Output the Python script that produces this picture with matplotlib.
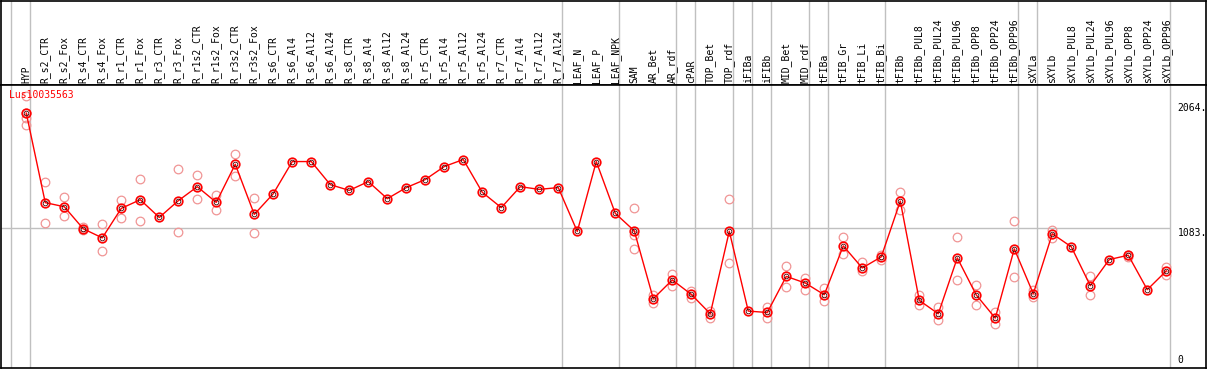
import matplotlib
matplotlib.use("Agg")
import matplotlib.pyplot as plt

# sample names (one column each)
samples = ["HYP",
	"R_s2_CTR", "R_s2_Fox", "R_s4_CTR", "R_s4_Fox", "R_r1_CTR", "R_r1_Fox",
	"R_r3_CTR", "R_r3_Fox", "R_r1s2_CTR", "R_r1s2_Fox", "R_r3s2_CTR", "R_r3s2_Fox",
	"R_s6_CTR", "R_s6_Al4", "R_s6_Al12", "R_s6_Al24", "R_s8_CTR", "R_s8_Al4",
	"R_s8_Al12", "R_s8_Al24", "R_r5_CTR", "R_r5_Al4", "R_r5_Al12", "R_r5_Al24",
	"R_r7_CTR", "R_r7_Al4", "R_r7_Al12", "R_r7_Al24",
	"LEAF_N", "LEAF_P", "LEAF_NPK",
	"SAM", "AR_Bet", "AR_rdf", "cPAR", "TOP_Bet", "TOP_rdf", "iFIBa", "iFIBb",
	"MID_Bet", "MID_rdf", "tFIBa", "tFIB_Gr", "tFIB_Li", "tFIB_Bi",
	"tFIBb", "tFIBb_PUL8", "tFIBb_PUL24", "tFIBb_PUL96", "tFIBb_OPP8",
	"tFIBb_OPP24", "tFIBb_OPP96", "sXYLa",
	"sXYLb", "sXYLb_PUL8", "sXYLb_PUL24", "sXYLb_PUL96", "sXYLb_OPP8",
	"sXYLb_OPP24", "sXYLb_OPP96"]

# mean expression per sample
means = [1982,
	1280, 1248, 1075, 1004, 1235, 1303, 1164, 1295, 1405, 1282, 1581, 1188,
	1350, 1602, 1602, 1421, 1376, 1445, 1311, 1398, 1461, 1563, 1618, 1361,
	1241, 1405, 1384, 1398,
	1054, 1602, 1196,
	1059, 527, 674, 561, 409, 1056, 430, 419, 702, 650, 558, 941, 768, 855,
	1292, 514, 409, 847, 556, 375, 918, 566,
	1036, 934, 629, 834, 868, 598, 745]

# replicate values per sample (empty = hidden behind the mean)
reps = [[2118, 1985, 1940, 1888],
	[1445, 1122], [1327, 1172], [1091, 1064], [1109, 899], [1303, 1162],
	[1468, 1138], [], [1547, 1048], [1500, 1311], [1337, 1219], [1665, 1489],
	[1319, 1044],
	[], [], [], [], [], [], [], [], [], [], [], [], [], [], [], [],
	[], [], [],
	[1240, 1030, 918], [558, 490], [724, 627], [590, 532], [433, 375],
	[1311, 808], [], [462, 375], [787, 616], [690, 598], [611, 506],
	[1012, 879], [816, 742], [873, 834],
	[1366, 1221], [556, 480], [462, 359], [1009, 674], [635, 477], [419, 325],
	[1138, 698], [598, 537],
	[1062, 1004], [], [708, 556], [], [873, 852], [], [773, 713]]

# last sample of each tissue group (gray separators)
group_ends = ["HYP", "R_r7_Al24", "LEAF_NPK", "AR_rdf", "cPAR", "TOP_rdf",
	"iFIBa", "iFIBb", "MID_rdf", "tFIBa", "tFIB_Bi", "tFIBb_OPP96", "sXYLa",
	"sXYLb_OPP96"]

gene = "Lus10035563"
ytick_vals = [2064, 1083, 0]
ytick_text = ["2064.", "1083.", "0"]

W, H = 1209, 370
fig = plt.figure(figsize=(W / 100, H / 100), dpi=100)
mono = "DejaVu Sans Mono"
gray = "#c0c0c0"

x = list(range(len(samples)))
xlim = (-1.33, 62.09)
seps = [-1 + 0.22] + [samples.index(s) + 0.22 for s in group_ends]

# header with sample names
hax = fig.add_axes([1 / W, 285 / H, 1205 / W, 84.5 / H])
hax.set_xlim(*xlim)
hax.set_ylim(0, 1)
hax.set_xticks([])
hax.set_yticks([])
for sp in hax.spines.values():
	sp.set_color("black")
	sp.set_linewidth(1.2)
for s in seps:
	hax.axvline(s, color=gray, lw=1.0)
for i, name in enumerate(samples):
	hax.text(i, 0.025, name, rotation=90, ha="center", va="bottom",
		family=mono, fontsize=7)

# main plot
ax = fig.add_axes([1 / W, 2 / H, 1205 / W, 283 / H])
ax.set_xlim(*xlim)
ax.set_ylim(-16, 2202)
ax.set_xticks([])
ax.set_yticks([])
for sp in ax.spines.values():
	sp.set_color("black")
	sp.set_linewidth(1.2)
for s in seps:
	ax.axvline(s, color=gray, lw=1.0, zorder=1)
ax.hlines(1083, xlim[0], seps[-1], color=gray, lw=1.0, zorder=1)

# replicates
for i, r in enumerate(reps):
	ax.plot([i] * len(r), r, "o", ms=6.2, mfc="none", mec="#f09595", mew=0.9,
		zorder=2)

# mean line
ax.plot(x, means, "-", color="red", lw=1.0, zorder=3)
ax.plot(x, means, "o", ms=6.2, mfc="none", mec="red", mew=1.2, zorder=4)
ax.plot(x, means, "o", ms=3.4, mfc="none", mec="#400000", mew=0.6, zorder=5)

ax.text(-0.9, 2120, gene, color="red", family=mono, fontsize=7,
	ha="left", va="center")

# value labels on the right
for v, t in zip(ytick_vals, ytick_text):
	ax.text(60.6, v + (0 if v else 10), t, family=mono, fontsize=7,
		ha="left", va="top" if v else "bottom")

fig.savefig("out.png", dpi=100)
